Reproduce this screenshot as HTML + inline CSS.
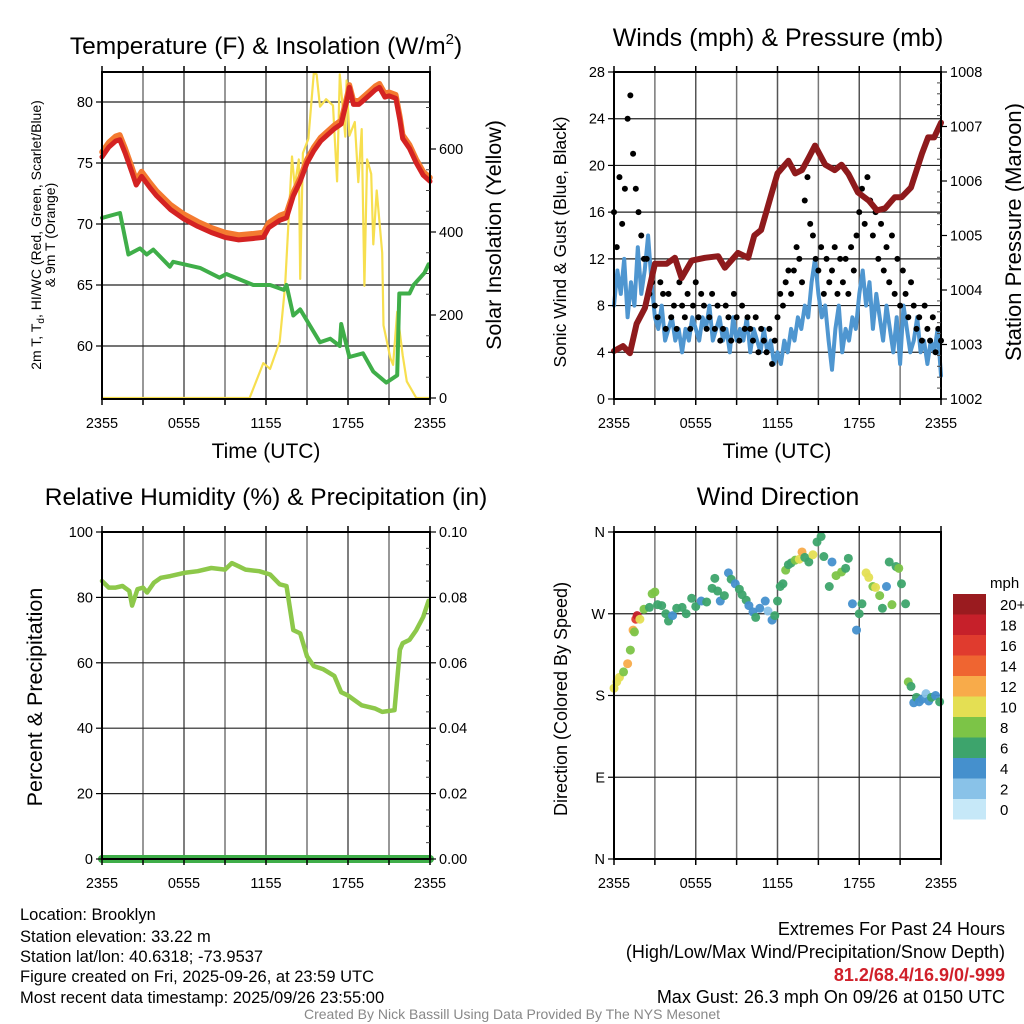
<!DOCTYPE html>
<html><head><meta charset="utf-8"><style>
html,body{margin:0;padding:0;background:#fff;}
svg{display:block;font-family:"Liberation Sans",sans-serif;}
</style></head><body>
<svg id="chart" width="1024" height="1024" viewBox="0 0 1024 1024" xmlns="http://www.w3.org/2000/svg">
<text x="266" y="54" font-size="24.5" text-anchor="middle">Temperature (F) &amp; Insolation (W/m<tspan font-size="15" dy="-10">2</tspan><tspan dy="10">)</tspan></text>
<text x="778" y="46" font-size="25" text-anchor="middle">Winds (mph) &amp; Pressure (mb)</text>
<text x="266" y="505" font-size="24.5" text-anchor="middle">Relative Humidity (%) &amp; Precipitation (in)</text>
<text x="778" y="505" font-size="25" text-anchor="middle">Wind Direction</text>
<text x="266" y="458" font-size="21" text-anchor="middle">Time (UTC)</text>
<text x="777" y="458" font-size="21" text-anchor="middle">Time (UTC)</text>
<text transform="translate(41,235) rotate(-90)" font-size="14" text-anchor="middle">2m T, T<tspan font-size="10" dy="3">d</tspan><tspan dy="-3">, HI/WC (Red, Green, Scarlet/Blue)</tspan></text>
<text transform="translate(55,235) rotate(-90)" font-size="14" text-anchor="middle">&amp; 9m T (Orange)</text>
<text transform="translate(501,235) rotate(-90)" font-size="21.5" text-anchor="middle">Solar Insolation (Yellow)</text>
<text transform="translate(566,242) rotate(-90)" font-size="17.5" text-anchor="middle">Sonic Wind &amp; Gust (Blue, Black)</text>
<text transform="translate(1021,232) rotate(-90)" font-size="22" text-anchor="middle">Station Pressure (Maroon)</text>
<text transform="translate(42,697) rotate(-90)" font-size="21.5" text-anchor="middle">Percent &amp; Precipitation</text>
<text transform="translate(567,699) rotate(-90)" font-size="18" text-anchor="middle">Direction (Colored By Speed)</text>
<g font-size="16.5">
<text x="20" y="920">Location: Brooklyn</text>
<text x="20" y="942">Station elevation: 33.22 m</text>
<text x="20" y="962">Station lat/lon: 40.6318; -73.9537</text>
<text x="20" y="982">Figure created on Fri, 2025-09-26, at 23:59 UTC</text>
<text x="20" y="1003">Most recent data timestamp: 2025/09/26 23:55:00</text>
</g>
<g font-size="18" text-anchor="end">
<text x="1005" y="935">Extremes For Past 24 Hours</text>
<text x="1005" y="958">(High/Low/Max Wind/Precipitation/Snow Depth)</text>
<text x="1005" y="981" fill="#d0202a" font-weight="bold">81.2/68.4/16.9/0/-999</text>
<text x="1005" y="1003">Max Gust: 26.3 mph On 09/26 at 0150 UTC</text>
</g>
<text x="512" y="1019" font-size="14" fill="#888" text-anchor="middle">Created By Nick Bassill Using Data Provided By The NYS Mesonet</text>
</svg>
<script>
// ---- data ----
const xTickLabels = ["2355","0555","1155","1755","2355"];
const tempT = [0,0.5,1,1.3,1.7,2.2,2.5,2.9,3.5,4,5,6,7,8,9,10,11,11.8,12.2,13,13.5,14,14.5,15,15.5,16,16.5,17,17.5,18,18.1,18.4,18.8,19.2,19.6,20,20.3,20.7,21,21.5,21.8,22,22.5,23,23.5,24];
const temp2m = [75.5,76.3,76.8,76.9,75.8,74.2,73.2,73.9,73.0,72.3,71.2,70.4,69.8,69.3,68.9,68.7,68.8,68.9,69.7,70.3,70.5,72.3,73.5,75.0,76.0,76.8,77.3,77.8,78.2,80.5,81.2,79.8,79.8,80.2,80.6,81.0,81.2,80.4,80.5,80.3,78.5,77.0,76.2,75.0,74.0,73.5];
const temp9m = [75.9,76.7,77.2,77.3,76.2,74.6,73.6,74.3,73.4,72.7,71.6,70.8,70.2,69.7,69.3,69.1,69.2,69.3,70.1,70.7,70.9,72.6,73.8,75.3,76.3,77.1,77.6,78.1,78.5,80.8,81.4,80.1,80.1,80.5,80.9,81.3,81.5,80.7,80.8,80.6,78.8,77.3,76.5,75.3,74.3,73.8];
const dewT = [0,1.32,1.93,2.78,3.27,3.75,4.97,5.2,7.17,8.6,9.1,11.07,12.3,13.3,13.5,14.0,14.5,15.95,16.7,17.4,17.5,18.1,19.1,19.85,20.8,21.6,21.75,22.5,22.8,23.6,23.9];
const dewV = [70.5,70.9,67.5,68.0,67.5,67.9,66.5,66.9,66.4,65.6,65.9,65.0,65.0,64.6,65.0,62.5,63.0,60.3,60.6,60.0,61.8,59.1,59.4,57.9,57.0,57.6,64.3,64.3,65.0,66.0,66.7];
const solarT = [0,10.8,11.8,12.3,13.0,13.4,13.9,14.1,14.4,14.5,14.7,15.1,15.5,15.7,15.95,16.4,16.9,17.2,17.4,17.8,17.9,18.1,18.5,18.75,19.0,19.2,19.4,19.7,19.85,20.1,20.5,20.6,21.1,21.3,21.6,22.0,22.3,23.0,24];
const solarV = [0,0,84,70,136,270,582,510,575,287,590,625,783,780,702,720,705,522,780,630,765,632,665,520,648,270,575,540,370,500,350,175,96,80,208,103,40,0,0];
const presT = [0,0.66,1.17,1.66,2.27,3.0,3.86,4.47,4.96,5.7,6.67,7.65,8.14,9.1,9.85,10.3,10.8,11.57,12.0,12.8,13.3,13.8,14.3,14.75,15.5,16.2,16.7,17.2,17.9,18.7,19.3,19.9,20.6,21.1,21.8,22.6,23.05,23.5,24];
const presV = [1002.88,1002.97,1002.84,1003.38,1003.67,1004.48,1004.48,1004.59,1004.22,1004.54,1004.59,1004.62,1004.41,1004.68,1004.59,1005.0,1005.1,1005.77,1006.14,1006.37,1006.14,1006.2,1006.43,1006.65,1006.3,1006.2,1006.3,1006.13,1005.79,1005.64,1005.46,1005.5,1005.7,1005.7,1005.88,1006.5,1006.8,1006.8,1007.07];
const windStepHours = 0.25;
const windV = [8,11,9,12,7,10,8,13,9,11,14,10,7,6,8,5,6,7,5,6,4,6,5,7,6,5,7,6,8,5,6,7,5,6,4,7,5,6,5,7,4,6,5,4,6,4,5,3,4,3,5,4,6,5,7,6,8,7,10,12,9,7,8,5,2.5,6,8,4,6,5,7,6,9,11,8,10,6,9,7,5,8,6,4,7,3,8,6,4,5,7,4,5,3,5,4,6,2];
const gustStepHours = 0.2;
const gustV = [16,13,19,15,18, 24,26,21,18,16, 14,12,12,9,10, 8,7,10,9,6, 9,7,8,6,10, 8,7,9,6,8, 10,7,9,8,6, 7,9,6,8,5, 6,8,7,5,9, 7,5,8,6,7, 6,5,7,4,6, 5,4,6,3,5, 7,9,8,10,11, 9,11,13,12,10, 17,19,15,14,12, 11,13,9,12,10, 11,13,9,12,10, 12,9,13,11,14, 16,18,15,19,17, 14,16,12,15,11, 13,10,14,9,12, 8,11,9,7,10, 8,6,7,5,8, 6,5,7,4,6, 5];
const rhT = [0,0.5,1,1.5,2,2.2,2.6,3,3.3,3.8,4.3,5,6,7,8,9,9.5,10,10.5,11.5,12.3,13.0,13.5,14.0,14.5,15,15.5,16.2,17,17.5,18,19,20,20.5,21.4,21.8,22,22.5,23,23.5,23.9];
const rhV = [85,83,83,83.5,82,77.5,82.5,83,81.5,84.5,86,86.5,87.5,88,89,88.5,90.5,89.5,88.5,88,87,84,83.5,70,69,62,59,58,56,51,50,47,46,45,45.5,64,66,67,70,74,79];
const precipT = [0,6,12,18,24];
const precipV = [0,0,0,0,0];
const dirT = [0,0.2,0.4,0.7,1.0,1.2,1.4,1.5,1.6,1.7,1.9,2.2,2.6,2.8,3.0,3.2,3.5,3.8,4.0,4.3,4.6,5.0,5.3,5.7,6.0,6.4,6.8,7.2,7.4,7.6,7.8,8.1,8.4,8.6,8.9,9.2,9.4,9.7,9.9,10.2,10.4,10.7,11.1,11.3,11.6,11.8,12.0,12.2,12.4,12.6,12.8,13.0,13.3,13.6,13.8,14.0,14.3,14.6,14.9,15.2,15.4,15.8,16.0,16.3,16.7,17.0,17.2,17.5,17.8,18.0,18.2,18.5,18.7,19.0,19.2,19.5,19.7,20.0,20.2,20.4,20.7,20.9,21.1,21.4,21.6,21.8,22.0,22.2,22.4,22.6,22.9,23.1,23.3,23.6,23.9];
const dirV = [188,195,200,206,215,230,252,250,264,268,264,275,277,292,294,280,279,270,262,268,276,277,270,287,278,284,283,298,309,295,284,290,315,308,303,297,291,285,279,272,266,276,284,273,263,268,284,300,303,318,324,326,329,330,338,332,327,335,349,355,333,300,327,312,316,320,331,281,252,270,281,315,310,300,299,290,276,300,327,280,322,320,303,281,195,190,172,178,173,176,182,174,178,180,173];
const dirS = [10,10,10,8,12,8,12,8,16,18,10,8,6,8,8,6,6,6,6,4,6,6,6,6,6,4,6,6,6,6,4,6,4,6,4,6,6,6,4,4,6,4,4,2,4,6,6,6,6,8,6,6,8,10,12,6,6,10,6,6,6,6,4,8,8,6,6,4,4,6,6,10,10,8,10,8,6,4,6,8,6,8,6,6,8,6,4,6,4,4,2,4,6,4,6];
const speedBins = [0,2,4,6,8,10,12,14,16,18,20];
const speedLabels = ["0","2","4","6","8","10","12","14","16","18","20+"];
const speedColors = ["#c6e8f8","#89c2e8","#4590cd","#3da46c","#7cc447","#e4df53","#f8ab4a","#ef6531","#e03b2e","#c6202a","#9a1b1f"];

// ---- helpers ----
const NS = "http://www.w3.org/2000/svg";
const svg = document.getElementById("chart");
function el(tag, attrs, parent){ const e=document.createElementNS(NS,tag); for(const k in attrs) e.setAttribute(k,attrs[k]); (parent||svg).appendChild(e); return e; }
function scale(d0,d1,r0,r1){ return v => r0 + (v-d0)*(r1-r0)/(d1-d0); }
function colorFor(s){ let i=0; for(let k=0;k<speedBins.length;k++){ if(s>=speedBins[k]-1) i=k; } return speedColors[i]; }

function frame(p, name){
  const g = el("g",{});
  
  
  for(let h=3; h<24; h+=3){
    const x=p.x(h);
    el("line",{x1:x,x2:x,y1:p.top,y2:p.bot,stroke:(h%6===0)?"#555":"#777","stroke-width":1.5},g);
  }
  p.hGrid.forEach(v=>{ const y=p.yl(v); el("line",{x1:p.left,x2:p.right,y1:y,y2:y,stroke:"#222","stroke-width":1.2},g); });
  return g;
}
function border(p,name){
  const r = el("rect",{x:p.left,y:p.top,width:p.right-p.left,height:p.bot-p.top,fill:"none",stroke:"#000","stroke-width":2});
  
  
  const g = el("g",{"font-size":14.5});
  
  
  for(let h=0; h<=24; h+=3){
    const x=p.x(h);
    el("line",{x1:x,x2:x,y1:p.bot,y2:p.bot+6,stroke:"#000","stroke-width":1.5},g);
    el("line",{x1:x,x2:x,y1:p.top,y2:p.top-6,stroke:"#000","stroke-width":1.5},g);
  }
  xTickLabels.forEach((t,i)=>{
    const tx = el("text",{x:p.x(i*6),y:p.bot+29,"text-anchor":"middle"},g);
    tx.textContent=t;
  });
}
function axisLeft(p, vals, labels, name){
  const g = el("g",{"font-size":14.5,"text-anchor":"end"});
  
  
  vals.forEach((v,i)=>{ const y=p.yl(v);
    el("line",{x1:p.left-6,x2:p.left,y1:y,y2:y,stroke:"#000","stroke-width":1.2},g);
    const t=el("text",{x:p.left-9,y:y+5},g); t.textContent=labels[i]; });
}
function axisRight(p, ys, vals, labels, name, minor){
  const g = el("g",{"font-size":14.5});
  
  
  minor.forEach(v=>{ const y=ys(v); el("line",{x1:p.right-4,x2:p.right,y1:y,y2:y,stroke:"#444","stroke-width":1},g); });
  vals.forEach((v,i)=>{ const y=ys(v);
    el("line",{x1:p.right,x2:p.right+6,y1:y,y2:y,stroke:"#000","stroke-width":1.2},g);
    const t=el("text",{x:p.right+9,y:y+5},g); t.textContent=labels[i]; });
}
function line(xs, ys, T, V, color, w, name){
  const d = T.map((t,i)=>(i?"L":"M")+xs(t).toFixed(1)+","+ys(V[i]).toFixed(1)).join("");
  const pth = el("path",{d:d,fill:"none",stroke:color,"stroke-width":w,"stroke-linejoin":"round","stroke-linecap":"round"});
  
  
  return pth;
}

// ---- panel 1: temperature ----
const p1 = {left:102,right:430,top:72,bot:399};
p1.x = scale(0,24,p1.left,p1.right);
p1.yl = scale(60,80,346,102);
p1.hGrid=[60,65,70,75,80];
const ySolar = scale(0,600,398,149);
frame(p1,'temperature');
line(p1.x,ySolar,solarT,solarV,"#f7df4f",2.2,'solar-insolation-line');
line(p1.x,p1.yl,tempT,temp9m,"#f47a30",5.5,'temp-9m-line');
line(p1.x,p1.yl,tempT,temp2m,"#d42222",5,'temp-2m-line');
line(p1.x,p1.yl,dewT,dewV,"#3fae49",4,'dewpoint-line');
border(p1,'temperature');
axisLeft(p1,[60,65,70,75,80],["60","65","70","75","80"],'temp-y-axis');
axisRight(p1,ySolar,[0,200,400,600],["0","200","400","600"],'solar-y-axis',[50,100,150,250,300,350,450,500,550,650,700]);

// ---- panel 2: winds ----
const p2 = {left:614,right:941,top:72,bot:399};
p2.x = scale(0,24,p2.left,p2.right);
p2.yl = scale(0,28,399,72);
p2.hGrid=[4,8,12,16,20,24];
const yPres = scale(1002,1008,399,72);
frame(p2,'winds');
line(p2.x,p2.yl,windV.map((v,i)=>i*windStepHours),windV,"#4f96d0",4,'sonic-wind-line');
const gg = el("g",{});


gustV.forEach((v,i)=>{
  const c = el("circle",{cx:p2.x(i*gustStepHours),cy:p2.yl(v),r:3,fill:"#000"},gg);
  
  
});
line(p2.x,yPres,presT,presV,"#8e1a1c",6,'pressure-line');
border(p2,'winds');
axisLeft(p2,[0,4,8,12,16,20,24,28],["0","4","8","12","16","20","24","28"],'wind-y-axis');
axisRight(p2,yPres,[1002,1003,1004,1005,1006,1007,1008],["1002","1003","1004","1005","1006","1007","1008"],'pressure-y-axis',[1002.2,1002.4,1002.6,1002.8,1003.2,1003.4,1003.6,1003.8,1004.2,1004.4,1004.6,1004.8,1005.2,1005.4,1005.6,1005.8,1006.2,1006.4,1006.6,1006.8,1007.2,1007.4,1007.6,1007.8]);

// ---- panel 3: RH ----
const p3 = {left:102,right:430,top:532,bot:859};
p3.x = scale(0,24,p3.left,p3.right);
p3.yl = scale(0,100,859,532);
p3.hGrid=[20,40,60,80];
const yPrec = scale(0,0.1,859,532);
frame(p3,'humidity');
line(p3.x,p3.yl,rhT,rhV,"#8dc84a",4.5,'relative-humidity-line');
line(p3.x,yPrec,precipT,precipV,"#3fae49",8,'precipitation-line');
border(p3,'humidity');
axisLeft(p3,[0,20,40,60,80,100],["0","20","40","60","80","100"],'rh-y-axis');
axisRight(p3,yPrec,[0,0.02,0.04,0.06,0.08,0.1],["0.00","0.02","0.04","0.06","0.08","0.10"],'precip-y-axis',[0.005,0.01,0.015,0.025,0.03,0.035,0.045,0.05,0.055,0.065,0.07,0.075,0.085,0.09,0.095]);

// ---- panel 4: direction ----
const p4 = {left:614,right:941,top:532,bot:859};
p4.x = scale(0,24,p4.left,p4.right);
p4.yl = scale(0,360,859,532);
p4.hGrid=[90,180,270];
frame(p4,'direction');
const dg = el("g",{});


dirT.forEach((t,i)=>{
  const c = el("circle",{cx:p4.x(t),cy:p4.yl(dirV[i]),r:4.5,fill:colorFor(dirS[i]),"fill-opacity":0.95},dg);
  
  
});
border(p4,'direction');
axisLeft(p4,[0,90,180,270,360],["N","E","S","W","N"],'direction-y-axis');

// ---- colorbar ----
const cb = el("g",{"font-size":15});


const cbTop=594, cbH=20.5;
const mt = el("text",{x:990,y:588},cb); mt.textContent="mph";
speedColors.slice().reverse().forEach((c,i)=>{
  const r = el("rect",{x:953,y:cbTop+i*cbH,width:33,height:cbH,fill:c},cb);
  
  
  const t = el("text",{x:1000,y:cbTop+i*cbH+16},cb);
  t.textContent = speedLabels[speedLabels.length-1-i];
});
</script>
</body></html>
